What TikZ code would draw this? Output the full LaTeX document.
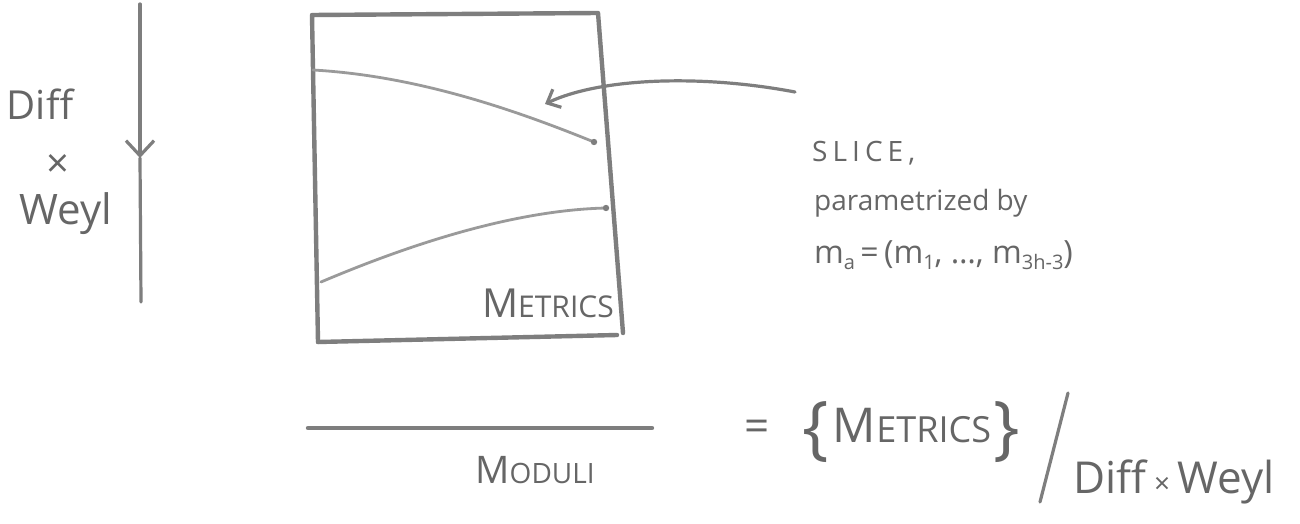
\documentclass[tikz,border=0pt]{standalone}
\usepackage{fontspec}
\setmainfont{Open Sans}
\usetikzlibrary{arrows.meta}
\definecolor{pencil}{HTML}{7E7E7E}
\definecolor{pencillt}{HTML}{9A9A9A}
\definecolor{ink}{HTML}{666666}
\newcommand{\fs}[1]{\fontsize{#1}{#1}\selectfont}
\newcommand{\smcap}[4]{{\fs{#1}#2}{\fs{#3}#4}}
\tikzset{
  hand/.style={text=ink, inner sep=0pt},
  boxline/.style={draw=pencil, line width=4.4pt, line cap=round, line join=round},
  slice/.style={draw=pencillt, line width=2.8pt, line cap=round},
  arrowline/.style={draw=pencil, line width=3.2pt, line cap=round},
}
\begin{document}
\begin{tikzpicture}[x=1pt,y=-1pt]
\useasboundingbox[fill=white] (0,0) rectangle (1300,524);
% vertical Diff x Weyl arrow
\coordinate (vtop) at (140,4);
\coordinate (vmid) at (140,158);
\coordinate (vbot) at (141,302);
\draw[arrowline, -{Straight Barb[length=15pt,width=28pt,line width=3.2pt]}] (vtop) -- (vmid);
\draw[arrowline] (vmid) -- (vbot);
\node[hand, font=\fs{40}] (diff) at (40,104) {Diff};
\node[hand, font=\fs{40}] (times) at (58,166) {×};
\node[hand, font=\fs{42}] (weyl) at (66,214) {Weyl};
% metrics box
\coordinate (tl) at (312,15);
\coordinate (tr) at (598,13);
\coordinate (br) at (623,333);
\coordinate (bl) at (318,342);
\draw[boxline] (bl) -- (tl) -- (tr) -- (br);
\draw[boxline] (bl) -- (617,335);
% slices
\coordinate (s1a) at (313,70);
\coordinate (s1b) at (594,142);
\coordinate (s2a) at (321,282);
\coordinate (s2b) at (606,208);
\draw[slice] (s1a) .. controls (420,76) and (520,112) .. (s1b);
\draw[slice] (s2a) .. controls (420,240) and (520,210) .. (s2b);
\fill[pencil] (s1b) circle (3.2pt);
\fill[pencil] (s2b) circle (3.2pt);
\node[hand, anchor=east] (metrics) at (614,303) {\smcap{40}{M}{30}{ETRICS}};
% slice arrow
\coordinate (afrom) at (795,92);
\coordinate (ato) at (545,104);
\draw[arrowline, -{Straight Barb[length=11pt,width=20pt,line width=3.2pt]}] (afrom) .. controls (700,74) and (600,78) .. (ato);
\node[hand, font=\fs{28}, anchor=west] (slicet) at (812,153) {\addfontfeature{LetterSpace=18}SLICE,};
\node[hand, font=\fs{28}, anchor=west] (param) at (814,203) {parametrized by};
\node[hand, font=\fs{32}, anchor=west] (ma) at (814,255) {m\raisebox{-6pt}{\fs{20}a}\,=\,(m\raisebox{-6pt}{\fs{20}1}, …, m\raisebox{-6pt}{\fs{20}3h-3})};
% moduli equation
\coordinate (la) at (308,428);
\coordinate (lb) at (652,428);
\draw[boxline] (la) -- (lb);
\node[hand] (moduli) at (535,470) {\smcap{38}{M}{28}{ODULI}};
\node[hand, font=\fs{44}] (eq) at (757,431) {=};
\node[hand, font=\fs{70}, anchor=east] (lbrace) at (829,432) {\{};
\node[hand] (metrics2) at (912,426) {\smcap{48}{M}{36}{ETRICS}};
\node[hand, font=\fs{70}, anchor=west] (rbrace) at (993,432) {\}};
\coordinate (sl1) at (1068,393);
\coordinate (sl2) at (1040,502);
\draw[arrowline] (sl1) -- (sl2);
\node[hand, font=\fs{44}] (dw) at (1174,482) {Diff\,{\fs{28}×}\,Weyl};
\end{tikzpicture}
\end{document}
